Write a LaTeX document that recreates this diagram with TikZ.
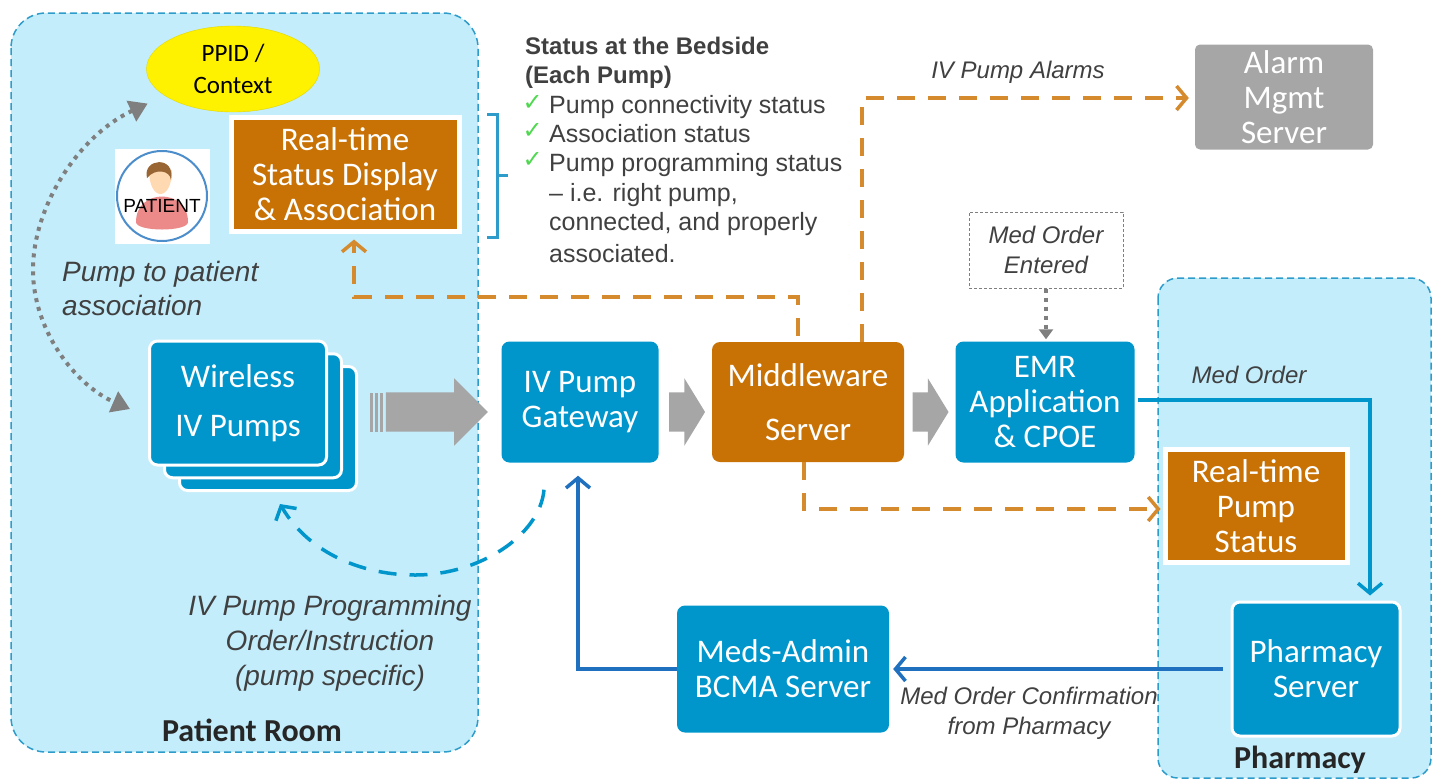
\documentclass[tikz,border=0pt]{standalone}
\usepackage{fontspec}
\setmainfont{Carlito}
\newfontfamily\labelfont{Liberation Sans}
\newfontfamily\checkfont{DejaVu Sans}
\usetikzlibrary{positioning, calc, shapes.geometric, shapes.arrows, arrows.meta}
\definecolor{roomblue}{HTML}{C3EDFB}
\definecolor{edgeblue}{HTML}{2E9CCB}
\definecolor{boxblue}{HTML}{0096CC}
\definecolor{linkblue}{HTML}{1F70BE}
\definecolor{boxorange}{HTML}{C87206}
\definecolor{linkorange}{HTML}{D68A2E}
\definecolor{arrowgray}{HTML}{A6A6A6}
\definecolor{dotgray}{HTML}{7F7F7F}
\definecolor{textgray}{HTML}{404040}
\definecolor{tickgreen}{HTML}{4FD84F}
\tikzstyle{Link} = [
    line width=3.5pt,
    -{Straight Barb[length=10pt, width=24pt, line width=3.5pt]}
]
\tikzstyle{OrangeLink} = [
    Link, draw=linkorange,
    dash pattern=on 18pt off 13pt
]
\tikzstyle{DotLink} = [
    draw=dotgray, line width=4pt,
    dash pattern=on 4pt off 5pt,
    {Triangle[length=18pt, width=22pt]}-{Triangle[length=18pt, width=22pt]}
]

\begin{document}
\begin{tikzpicture}[
x=1pt, y=-1pt,
room/.style={
    draw=edgeblue,
    fill=roomblue,
    line width=1.5pt,
    dash pattern=on 7pt off 4pt
    },
server/.style={
    rectangle,
    rounded corners=8pt,
    fill=boxblue,
    text=white,
    align=center,
    font=\fontsize{33}{35}\selectfont,
    inner sep=0pt
    },
framed/.style={
    server,
    draw=white,
    line width=3pt
    },
status/.style={
    rectangle,
    fill=boxorange,
    draw=white,
    line width=5pt,
    text=white,
    align=center,
    font=\fontsize{33}{35}\selectfont,
    inner sep=0pt
    },
note/.style={
    font=\labelfont\itshape\fontsize{24}{30}\selectfont,
    text=textgray,
    align=center,
    inner sep=0pt
    },
item/.style={
    font=\labelfont\fontsize{25}{28}\selectfont,
    text=textgray,
    anchor=west,
    inner sep=0pt
    },
tick/.style={
    font=\checkfont\bfseries\fontsize{24}{24}\selectfont,
    text=tickgreen,
    anchor=west,
    inner sep=0pt
    },
flow/.style={
    single arrow,
    fill=arrowgray,
    inner xsep=0pt,
    inner ysep=19.5pt,
    single arrow head extend=14pt
    }
]
\useasboundingbox (0,0) rectangle (1437,780);

\draw[room, rounded corners=35pt] (11,13) rectangle (478,752);
\draw[room, rounded corners=20pt] (1158,278) rectangle (1431,778);

\node [ellipse, fill=yellow, draw=yellow!75!olive, minimum width=173pt, minimum height=86pt, inner sep=0pt, align=center, font=\fontsize{25}{32}\selectfont] (ppid) at (233,69) {PPID /\\Context};
\node [status, minimum width=228pt, minimum height=114pt] (display) at (345,174) {Real-time\\Status Display\\\& Association};

\node [rectangle, fill=white, minimum width=95pt, minimum height=95pt] (patientbox) at (162,196) {};
\node [circle, draw=linkblue!80!white, fill=white, line width=2pt, minimum size=90pt, inner sep=0pt] (patient) at (162,196) {};
\fill[red!45!white!85!gray] (136,222) .. controls (136,188) and (188,188) .. (188,222) .. controls (188,232) and (136,232) .. (136,222);
\fill[orange!30!white] (149,170) .. controls (149,202) and (172,202) .. (172,170) -- cycle;
\fill[brown!80!black] (147,178) .. controls (142,158) and (176,155) .. (171,180) .. controls (170,170) and (155,168) .. (147,178);
\node [font=\labelfont\fontsize{19}{20}\selectfont, inner sep=0pt] (patientlabel) at (162,206) {PATIENT};

\node [note, align=left, anchor=west, font=\labelfont\itshape\fontsize{28}{34}\selectfont] (assoc) at (62,288) {Pump to patient\\association};

\foreach \off/\name in {30/pumpc, 15/pumpb} {
    \node [framed, minimum width=177pt, minimum height=124pt] (\name) at (238+\off,403+\off*0.85) {};
}
\node [framed, minimum width=177pt, minimum height=124pt, font=\fontsize{33}{49}\selectfont] (pumpa) at (238,403) {Wireless\\IV Pumps};

\node [server, minimum width=157pt, minimum height=121pt] (gateway) at (580,402) {IV Pump\\Gateway};
\node [server, fill=boxorange, minimum width=192pt, minimum height=120pt, font=\fontsize{33}{54}\selectfont] (middleware) at (808,402) {Middleware\\Server};
\node [server, minimum width=179pt, minimum height=121pt] (emr) at (1045,402) {EMR\\Application\\\& CPOE};
\node [server, fill=arrowgray, rounded corners=5pt, minimum width=178pt, minimum height=105pt] (alarm) at (1284,97) {Alarm\\Mgmt\\Server};
\node [draw=dotgray, densely dashed, line width=1pt, note, minimum width=154pt, minimum height=76pt] (entered) at (1046,250) {Med Order\\Entered};

\node [status, minimum width=182pt, minimum height=113pt] (pumpstatus) at (1256,506) {Real-time\\Pump\\Status};
\node [framed, minimum width=168pt, minimum height=134pt] (pharmacy) at (1316,669) {Pharmacy\\Server};
\node [server, minimum width=212pt, minimum height=127pt] (meds) at (783,669) {Meds-Admin\\BCMA Server};

\node [flow, minimum height=102pt] (flowa) at (427,412) {};
\foreach \i in {0,1,2} {
    \node [rectangle, fill=arrowgray, minimum width=3pt, minimum height=39pt, inner sep=0pt] (stripe\i) at (371.5+\i*5,412) {};
}
\node [flow, single arrow tip angle=117, minimum height=36pt] (flowb) at (681,412) {};
\node [flow, single arrow tip angle=117, minimum height=36pt] (flowc) at (924.5,412) {};

\draw[OrangeLink] ([xshift=-10pt, yshift=6pt]middleware.north) -- (798,297) -- (354,297) -- ([xshift=9pt, yshift=-6pt]display.south);
\draw[OrangeLink] ([xshift=54pt]middleware.north) -- (862,98) -- ([xshift=-6pt]alarm.west |- 0,98);
\draw[OrangeLink] ([xshift=-4pt]middleware.south) -- (804,509) -- ([xshift=-2pt]pumpstatus.west |- 0,509);

\draw[Link, draw=boxblue] ([xshift=3pt, yshift=2pt]emr.east) -- (1370,400) -- ([xshift=54pt, yshift=5pt]pharmacy.north);
\draw[Link, draw=linkblue] ([xshift=-8pt]pharmacy.west) -- ([xshift=4pt]meds.east);
\draw[Link, draw=linkblue] (meds.west) -- (578,669) -- ([xshift=-2pt, yshift=-13pt]gateway.south);
\draw[Link, draw=boxblue, dash pattern=on 18pt off 13pt] ([xshift=-36pt, yshift=-27pt]gateway.south) .. controls (540,535) and (480,575) .. (415,575) .. controls (365,575) and (310,555) .. ([xshift=12pt, yshift=-12pt]pumpc.south);

\draw[DotLink] ([xshift=-24pt, yshift=-4pt]ppid.south west) .. controls (80,135) and (33,205) .. (33,270) .. controls (33,330) and (75,385) .. ([xshift=-18pt, yshift=-6pt]pumpa.west);
\draw[DotLink, {-Triangle[length=10pt, width=14pt]}, line width=3.5pt] (entered.south) -- ([yshift=2pt]entered.south |- emr.north);

\draw[draw=edgeblue, line width=3pt] (487,114) -- (497,114) -- (497,237) -- (487,237);
\draw[draw=edgeblue, line width=3pt] (497,175) -- (508,175);

\node [font=\labelfont\bfseries\fontsize{24}{29}\selectfont, text=textgray, align=left, anchor=north west, inner sep=0pt] (heading) at (525,37) {Status at the Bedside\\(Each Pump)};
\node [item] (itema) at (549,107) {Pump connectivity status};
\node [item] (itemb) at (549,134) {Association status};
\node [item] (itemc) at (549,165) {Pump programming status};
\node [item] (itemd) at (549,195) {– i.e. right pump,};
\node [item] (iteme) at (549,224) {connected, and properly};
\node [item] (itemf) at (549,254) {associated.};
\node [tick, left = 6pt of itema, yshift=4pt] (ticka) {✓};
\node [tick, left = 6pt of itemb, yshift=3pt] (tickb) {✓};
\node [tick, left = 6pt of itemc, yshift=5pt] (tickc) {✓};

\node [note] (alarms) at (1018,72) {IV Pump Alarms};
\node [note] (medorder) at (1249,375) {Med Order};
\node [note, font=\labelfont\itshape\fontsize{28}{35}\selectfont] (programming) at (330,643) {IV Pump Programming\\Order/Instruction\\(pump specific)};
\node [note] (confirm) at (1029,713) {Med Order Confirmation\\from Pharmacy};

\node [font=\bfseries\fontsize{32}{32}\selectfont, text=black!85, inner sep=0pt] (roomlabel) at (252,730) {Patient Room};
\node [font=\bfseries\fontsize{32}{32}\selectfont, text=black!85, inner sep=0pt] (pharmacylabel) at (1300,760) {Pharmacy};

\end{tikzpicture}
\end{document}
